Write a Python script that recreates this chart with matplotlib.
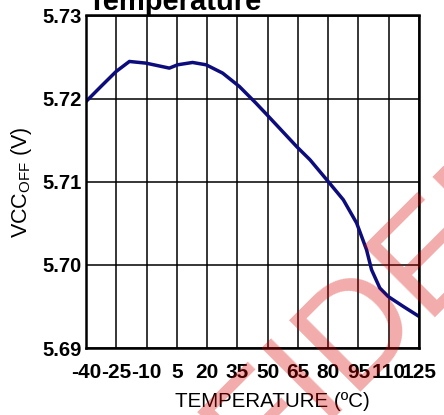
import matplotlib
matplotlib.use("Agg")
import matplotlib.pyplot as plt

temps = [-40, -32.6, -25.1, -18.5, -10.3, 1.3, 5.4, 12.8, 19.5, 27.7, 36, 44.2, 49.5, 64.5, 71,
         80, 87.5, 94.1, 99, 101.5, 105.6, 109.7, 117.2, 125]
vcc_off = [5.71965, 5.72146, 5.72326, 5.72447, 5.72427, 5.72367, 5.72407, 5.72435, 5.72407,
           5.72307, 5.72146, 5.71946, 5.71810, 5.71420, 5.71264, 5.71003, 5.70783, 5.70503,
           5.70182, 5.69941, 5.69721, 5.69620, 5.69500, 5.69380]
xticks = [-40, -25, -10, 5, 20, 35, 50, 65, 80, 95, 110, 125]
yticks = [5.69, 5.70, 5.71, 5.72, 5.73]

plt.rcParams['font.family'] = ['Liberation Sans', 'DejaVu Sans']

fig = plt.figure(figsize=(4.44, 4.15), dpi=100)
ax = fig.add_axes([86/444, 1 - 348/415, (419-86)/444, (348-15.5)/415])

ax.plot(temps, vcc_off, color='#0c0c7c', lw=2.5, solid_capstyle='round', solid_joinstyle='round')
ax.set_xlim(-40, 125)
ax.set_ylim(5.69, 5.73)
ax.set_xticks(xticks)
ax.set_yticks(yticks)
ax.set_xticklabels([str(t) for t in xticks], fontsize=15, fontweight='bold')
ax.set_yticklabels([f"{v:.2f}" for v in yticks], fontsize=14.5, fontweight='bold')
ax.tick_params(axis='x', length=0, pad=11)
ax.tick_params(axis='y', length=0, pad=3)
ax.grid(True, color='black', lw=1.1)
for s in ax.spines.values():
    s.set_linewidth(1.8)

ax.set_xlabel('TEMPERATURE (ºC)', fontsize=14.8)
ax.xaxis.set_label_coords((272 - 86) / 333, -(407 - 348) / 332.5)
ax.xaxis.label.set_va('baseline')
ax.set_ylabel(r'VCC$_{\mathregular{OFF}}$ (V)', fontsize=15.5)
ax.yaxis.set_label_coords(-(86 - 22) / 333, (348 - 182) / 332.5)
ax.yaxis.label.set_va('center')

fig.text(88/444, 1 - 10/415, 'Temperature', fontsize=21, fontweight='bold', ha='left', va='baseline')

# diagonal watermark
fig.text(30/444, 1 - 715/415, 'CONFIDENTIAL', fontsize=105, rotation=45,
         rotation_mode='anchor', ha='left', va='baseline', color=(0.85, 0, 0),
         alpha=0.33, zorder=10)

fig.savefig('out.png', dpi=100)
